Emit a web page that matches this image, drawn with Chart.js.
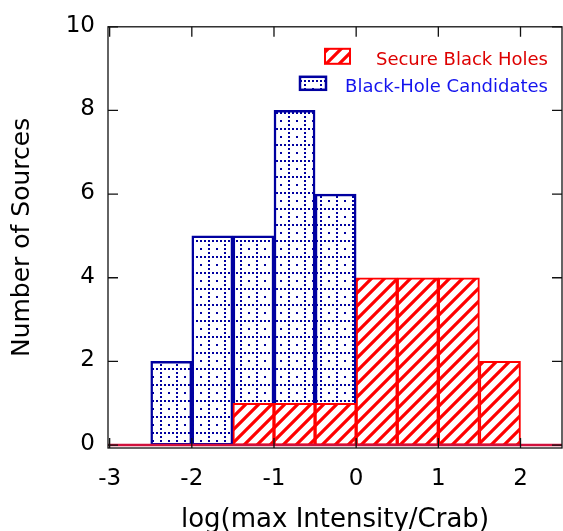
<!DOCTYPE html>
<html>
<head>
<meta charset="utf-8">
<script src="https://cdn.jsdelivr.net/npm/chart.js@4.4.1/dist/chart.umd.min.js"></script>
<style>
    html, body { margin: 0; padding: 0; background: #fff; }
    #wrap { width: 563px; height: 531px; }
</style>
</head>
<body>
<div id="wrap"><canvas id="histChart"></canvas></div>
<script>
const binCenters = [-2.25, -1.75, -1.25, -0.75, -0.25, 0.25, 0.75, 1.25, 1.75];
const secureBH = [null, null, 1, 1, 1, 4, 4, 4, 2];
const candidatesBH = [2, 5, 5, 8, 6, null, null, null, null];
const xTickValues = [-3, -2, -1, 0, 1, 2];
const yTickValues = [0, 2, 4, 6, 8, 10];
const seriesLabels = ['Secure Black Holes', 'Black-Hole Candidates'];

const FONT = 'DejaVu Sans';
const ctx = document.getElementById('histChart').getContext('2d');

function makeHatch() {
    const s = 13;
    const c = document.createElement('canvas');
    c.width = s; c.height = s;
    const g = c.getContext('2d');
    g.fillStyle = '#fff';
    g.fillRect(0, 0, s, s);
    g.strokeStyle = '#ff0000';
    g.lineWidth = 3.2;
    g.beginPath();
    g.moveTo(-3, 3); g.lineTo(3, -3);
    g.moveTo(-1, s + 1); g.lineTo(s + 1, -1);
    g.moveTo(s - 3, s + 3); g.lineTo(s + 3, s - 3);
    g.stroke();
    return ctx.createPattern(c, 'repeat');
}

function makeDots() {
    const s = 16;
    const c = document.createElement('canvas');
    c.width = s; c.height = s;
    const g = c.getContext('2d');
    g.fillStyle = '#fff';
    g.fillRect(0, 0, s, s);
    g.fillStyle = '#0000a0';
    for (let i = 0; i < s; i += 4) g.fillRect(i, 0, 2, 2);
    for (let j = 4; j < s; j += 4) g.fillRect(0, j, 2, 2);
    g.fillRect(8, 8, 2, 2);
    return ctx.createPattern(c, 'repeat');
}

const hatch = makeHatch();
const dots = makeDots();

// frame, inward ticks, zero line and the legend inside the plot
const framePlugin = {
    id: 'frame',
    afterDatasetsDraw(chart) {
        const { ctx, chartArea: a, scales: { x, y } } = chart;
        ctx.save();

        const y0 = y.getPixelForValue(0);
        ctx.strokeStyle = '#d0103c';
        ctx.lineWidth = 2.5;
        ctx.beginPath();
        ctx.moveTo(a.left, y0);
        ctx.lineTo(a.right, y0);
        ctx.stroke();

        ctx.strokeStyle = '#111';
        ctx.lineWidth = 1.3;
        ctx.strokeRect(a.left, a.top, a.width, a.height);
        ctx.beginPath();
        xTickValues.forEach(v => {
            const px = x.getPixelForValue(v);
            ctx.moveTo(px, a.bottom); ctx.lineTo(px, a.bottom - 10);
            ctx.moveTo(px, a.top); ctx.lineTo(px, a.top + 10);
        });
        yTickValues.forEach(v => {
            const py = y.getPixelForValue(v);
            ctx.moveTo(a.left, py); ctx.lineTo(a.left + 10, py);
            ctx.moveTo(a.right, py); ctx.lineTo(a.right - 10, py);
        });
        ctx.stroke();

        const items = [
            { text: seriesLabels[0], fill: hatch, border: '#ff0000', bw: 2, color: '#dd0000', box: [a.right - 237, a.top + 22, 25, 15], base: a.top + 38 },
            { text: seriesLabels[1], fill: dots, border: '#0000a0', bw: 2.5, color: '#1414ee', box: [a.right - 262, a.top + 50, 26, 13], base: a.top + 65 }
        ];
        ctx.font = `18px "${FONT}"`;
        ctx.textAlign = 'right';
        ctx.textBaseline = 'alphabetic';
        items.forEach(it => {
            const [bx, by, bw, bh] = it.box;
            ctx.fillStyle = it.fill;
            ctx.fillRect(bx, by, bw, bh);
            ctx.strokeStyle = it.border;
            ctx.lineWidth = it.bw;
            ctx.strokeRect(bx, by, bw, bh);
            ctx.fillStyle = it.color;
            ctx.fillText(it.text, a.right - 14, it.base);
        });

        ctx.restore();
    }
};

new Chart(ctx, {
    type: 'bar',
    data: {
        datasets: [{
            label: seriesLabels[0],
            data: binCenters.map((x, i) => ({ x: x, y: secureBH[i] })),
            backgroundColor: hatch,
            borderColor: '#ff0000',
            borderWidth: 2,
            borderSkipped: false,
            grouped: false,
            barPercentage: 1,
            categoryPercentage: 1
        }, {
            label: seriesLabels[1],
            data: binCenters.map((x, i) => ({ x: x, y: candidatesBH[i] })),
            backgroundColor: dots,
            borderColor: '#0000a0',
            borderWidth: 2.5,
            borderSkipped: false,
            grouped: false,
            barPercentage: 1,
            categoryPercentage: 1
        }]
    },
    options: {
        responsive: true,
        maintainAspectRatio: false,
        animation: false,
        layout: {
            padding: { top: 21, right: 1, left: 0, bottom: 0 }
        },
        scales: {
            x: {
                type: 'linear',
                offset: false,
                min: -3.02,
                max: 2.505,
                grid: { display: false, drawTicks: false },
                border: { display: false },
                afterBuildTicks: (scale) => {
                    scale.ticks = xTickValues.map(v => ({ value: v }));
                },
                afterFit: (scale) => { scale.height = 83; },
                ticks: {
                    color: '#000',
                    padding: 17,
                    autoSkip: false,
                    maxRotation: 0,
                    font: { family: FONT, size: 23 }
                },
                title: {
                    display: true,
                    text: 'log(max Intensity/Crab)',
                    color: '#000',
                    padding: { top: 0, bottom: -5 },
                    font: { family: FONT, size: 26 }
                }
            },
            y: {
                type: 'linear',
                min: -0.07,
                max: 10,
                grid: { display: false, drawTicks: false },
                border: { display: false },
                afterBuildTicks: (scale) => {
                    scale.ticks = yTickValues.map(v => ({ value: v }));
                },
                afterFit: (scale) => { scale.width = 108; },
                ticks: {
                    color: '#000',
                    padding: 13,
                    labelOffset: -1,
                    autoSkip: false,
                    font: { family: FONT, size: 23 }
                },
                title: {
                    display: true,
                    text: 'Number of Sources',
                    color: '#000',
                    padding: { top: 7, bottom: 0 },
                    font: { family: FONT, size: 25 }
                }
            }
        },
        plugins: {
            legend: { display: false },
            tooltip: { enabled: false }
        }
    },
    plugins: [framePlugin]
});
</script>
</body>
</html>
